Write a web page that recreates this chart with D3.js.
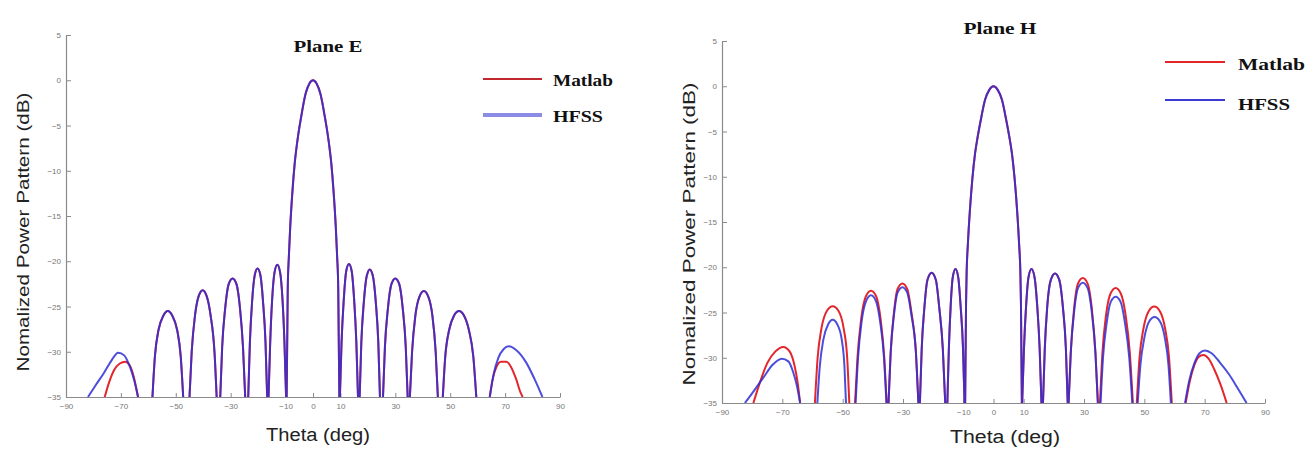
<!DOCTYPE html>
<html><head><meta charset="utf-8">
<script src="https://cdn.jsdelivr.net/npm/d3@7"></script>
<style>body{margin:0;background:#fff}svg{display:block}</style>
</head><body><svg id="c" width="1316" height="452"></svg>
<script>
// ---- data ----
const xTicks = [-90,-70,-50,-30,-10,0,10,30,50,70,90];
const yTicks = [5,0,-5,-10,-15,-20,-25,-30,-35];
const seriesNames = ["Matlab","HFSS"];
const titles = ["Plane E","Plane H"];
const yLabel = "Nomalized Power Pattern (dB)";
const xLabel = "Theta (deg)";

const eMatlab = [
 [-75.9,-35],[-74.2,-33.3],[-72.4,-32],[-70.4,-31.3],[-68.4,-31.1],[-66.8,-31.5],[-65.3,-32.8],[-64.3,-34.2],[-63.8,-35],null,
 [-58.5,-35],[-57.6,-30.5],[-56.3,-27.6],[-54.5,-26],[-52.9,-25.5],[-51.3,-26],[-49.5,-27.6],[-48.2,-30.5],[-47.3,-35],null,
 [-45,-35],[-44.2,-30],[-43,-26],[-41.6,-23.8],[-40.2,-23.2],[-38.8,-23.8],[-37.3,-26],[-35.9,-30],[-35.1,-35],null,
 [-33.8,-35],[-33.1,-29.5],[-32,-25.2],[-30.7,-22.5],[-29.3,-21.9],[-27.9,-22.5],[-26.6,-25.2],[-25.5,-29.5],[-24.7,-35],null,
 [-23.6,-35],[-23,-29],[-22.2,-24.5],[-21.2,-21.5],[-20.2,-20.8],[-19.2,-21.5],[-18.2,-24.5],[-17.3,-29],[-16.7,-35],null,
 [-16.2,-35],[-15.6,-29],[-14.9,-24.3],[-14,-21.2],[-13,-20.4],[-12,-21.2],[-11.1,-24.3],[-10.4,-29],[-9.8,-35],null,
 [-9.6,-35],[-9.2,-23],[-8.8,-19.5],[-8.3,-16.2],[-7.5,-12.3],[-6.7,-9.3],[-5.6,-6.5],[-4.4,-4.2],[-2.7,-1.5],[-1.3,-0.35],[0,0],[1.3,-0.35],[2.7,-1.5],[4.4,-4.2],[5.6,-6.5],[6.7,-9.3],[7.5,-12.3],[8.3,-16.2],[8.8,-19.5],[9.2,-23],[9.6,-35],null,
 [9.8,-35],[10.4,-29],[11.2,-24.3],[12.1,-21.1],[13.1,-20.3],[14.1,-21.1],[15,-24.3],[15.8,-29],[16.4,-35],null,
 [17,-35],[17.6,-29],[18.5,-24.6],[19.6,-21.6],[20.7,-20.9],[21.8,-21.6],[22.9,-24.6],[23.8,-29],[24.4,-35],null,
 [25.5,-35],[26.2,-29.5],[27.3,-25.2],[28.6,-22.5],[30,-21.9],[31.4,-22.5],[32.7,-25.2],[33.8,-29.5],[34.5,-35],null,
 [35.3,-35],[36.1,-30],[37.3,-26],[38.8,-23.9],[40.4,-23.3],[42,-23.9],[43.5,-26],[44.7,-30],[45.5,-35],null,
 [47.3,-35],[48.2,-30.5],[49.6,-27.6],[51.4,-26],[53.2,-25.5],[55,-26],[56.8,-27.6],[58.4,-30.5],[59.5,-35],null,
 [64.4,-35],[65.5,-33],[66.8,-31.7],[68.5,-31.1],[70.5,-31.1],[72.2,-31.7],[74,-33],[75.6,-34.5],[76.4,-35]
];
const eHfss = [
 [-82,-35],[-79.2,-33.7],[-76.3,-32.4],[-73.5,-31],[-71,-30.1],[-68.8,-30.4],[-66.8,-31.6],[-65.1,-33.2],[-63.7,-35],null,
 [-58.5,-35],[-57.6,-30.5],[-56.3,-27.6],[-54.5,-26],[-52.9,-25.5],[-51.3,-26],[-49.5,-27.6],[-48.2,-30.5],[-47.3,-35],null,
 [-45,-35],[-44.2,-30],[-43,-26],[-41.6,-23.8],[-40.2,-23.2],[-38.8,-23.8],[-37.3,-26],[-35.9,-30],[-35.1,-35],null,
 [-33.8,-35],[-33.1,-29.5],[-32,-25.2],[-30.7,-22.5],[-29.3,-21.9],[-27.9,-22.5],[-26.6,-25.2],[-25.5,-29.5],[-24.7,-35],null,
 [-23.6,-35],[-23,-29],[-22.2,-24.5],[-21.2,-21.5],[-20.2,-20.8],[-19.2,-21.5],[-18.2,-24.5],[-17.3,-29],[-16.7,-35],null,
 [-16.2,-35],[-15.6,-29],[-14.9,-24.3],[-14,-21.2],[-13,-20.4],[-12,-21.2],[-11.1,-24.3],[-10.4,-29],[-9.8,-35],null,
 [-9.6,-35],[-9.2,-23],[-8.8,-19.5],[-8.3,-16.2],[-7.5,-12.3],[-6.7,-9.3],[-5.6,-6.5],[-4.4,-4.2],[-2.7,-1.5],[-1.3,-0.35],[0,0],[1.3,-0.35],[2.7,-1.5],[4.4,-4.2],[5.6,-6.5],[6.7,-9.3],[7.5,-12.3],[8.3,-16.2],[8.8,-19.5],[9.2,-23],[9.6,-35],null,
 [9.8,-35],[10.4,-29],[11.2,-24.3],[12.1,-21.1],[13.1,-20.3],[14.1,-21.1],[15,-24.3],[15.8,-29],[16.4,-35],null,
 [17,-35],[17.6,-29],[18.5,-24.6],[19.6,-21.6],[20.7,-20.9],[21.8,-21.6],[22.9,-24.6],[23.8,-29],[24.4,-35],null,
 [25.5,-35],[26.2,-29.5],[27.3,-25.2],[28.6,-22.5],[30,-21.9],[31.4,-22.5],[32.7,-25.2],[33.8,-29.5],[34.5,-35],null,
 [35.3,-35],[36.1,-30],[37.3,-26],[38.8,-23.9],[40.4,-23.3],[42,-23.9],[43.5,-26],[44.7,-30],[45.5,-35],null,
 [47.3,-35],[48.2,-30.5],[49.6,-27.6],[51.4,-26],[53.2,-25.5],[55,-26],[56.8,-27.6],[58.4,-30.5],[59.5,-35],null,
 [64.4,-35],[65.8,-32.5],[67.5,-30.7],[69.5,-29.7],[71.3,-29.4],[74,-29.8],[77.7,-31.2],[80.7,-33],[83.6,-35]
];
const hMatlab = [
 [-79.6,-35],[-77.5,-32.8],[-75,-30.6],[-72.3,-29.3],[-69.7,-28.8],[-67.6,-29.3],[-66,-30.8],[-64.9,-32.8],[-64.1,-35],null,
 [-59.2,-35],[-58.3,-30],[-57,-26.7],[-55.2,-24.8],[-53.3,-24.3],[-51.4,-24.8],[-49.7,-26.7],[-48.5,-30],[-47.8,-35],null,
 [-45.9,-35],[-45.1,-30],[-43.9,-25.8],[-42.3,-23.2],[-40.6,-22.6],[-38.9,-23.2],[-37.4,-25.8],[-36.2,-30],[-35.4,-35],null,
 [-34.8,-35],[-34.1,-29.5],[-33,-25],[-31.8,-22.4],[-30.2,-21.8],[-28.6,-22.4],[-27.2,-25],[-25.7,-29.5],[-24.9,-35],null,
 [-24.4,-35],[-23.8,-29],[-22.9,-24.4],[-21.9,-21.4],[-20.5,-20.6],[-19.1,-21.4],[-18,-24.4],[-16.8,-29],[-16,-35],null,
 [-15.3,-35],[-14.8,-29],[-14.2,-24.3],[-13.5,-21.1],[-12.6,-20.2],[-11.7,-21.1],[-10.9,-24.3],[-10.1,-29],[-9.6,-35],null,
 [-9.4,-35],[-9.1,-24],[-8.9,-20.5],[-8.5,-17.5],[-7.8,-13.6],[-7,-10.2],[-6.1,-7.4],[-5.2,-5.5],[-4.2,-3.7],[-2.8,-1.5],[-1.4,-0.4],[0,0],[1.4,-0.4],[2.8,-1.5],[4.2,-3.7],[5.2,-5.5],[6.1,-7.4],[7,-10.2],[7.8,-13.6],[8.5,-17.5],[8.9,-20.5],[9.1,-24],[9.4,-35],null,
 [9.5,-35],[10.1,-29],[10.8,-24.3],[11.6,-21.1],[12.6,-20.2],[13.6,-21.1],[14.5,-24.3],[15.3,-29],[15.9,-35],null,
 [16.4,-35],[17,-29],[17.8,-24.4],[19,-21.4],[20.4,-20.7],[21.8,-21.4],[23,-24.4],[24,-29],[24.6,-35],null,
 [24.9,-35],[25.6,-29.5],[26.7,-24.6],[28,-21.8],[29.6,-21.2],[31.2,-21.8],[32.6,-24.6],[33.8,-29.5],[34.6,-35],null,
 [35.3,-35],[36.1,-29.5],[37.3,-25.3],[38.8,-22.9],[40.5,-22.3],[42.2,-22.9],[43.8,-25.3],[45.2,-29.5],[46.2,-35],null,
 [47.5,-35],[48.4,-30],[49.7,-26.8],[51.4,-24.9],[53.3,-24.35],[55.2,-24.9],[56.9,-26.8],[58.2,-30],[59.1,-35],null,
 [63.7,-35],[65,-32.7],[66.6,-30.8],[68,-29.9],[69.5,-29.7],[71.3,-30.1],[73.2,-31.3],[75.3,-33],[77.3,-35]
];
const hHfss = [
 [-82.4,-35],[-79.3,-33.6],[-76.3,-32.2],[-73.3,-30.8],[-70.2,-30.1],[-68,-30.4],[-66.4,-31.6],[-65.1,-33.2],[-64.1,-35],null,
 [-58.4,-35],[-57.6,-31],[-56.4,-28],[-54.8,-26.3],[-53.3,-25.8],[-51.8,-26.3],[-50.3,-28],[-49.4,-31],[-48.9,-35],null,
 [-45.7,-35],[-44.9,-30],[-43.8,-26.2],[-42.2,-23.7],[-40.6,-23.1],[-39,-23.7],[-37.5,-26.2],[-36.3,-30],[-35.5,-35],null,
 [-34.8,-35],[-34.1,-29.5],[-33,-25.3],[-31.8,-22.8],[-30.2,-22.2],[-28.6,-22.8],[-27.2,-25.3],[-25.7,-29.5],[-24.9,-35],null,
 [-24.4,-35],[-23.8,-29],[-22.9,-24.4],[-21.9,-21.4],[-20.5,-20.6],[-19.1,-21.4],[-18,-24.4],[-16.8,-29],[-16,-35],null,
 [-15.3,-35],[-14.8,-29],[-14.2,-24.3],[-13.5,-21.1],[-12.6,-20.2],[-11.7,-21.1],[-10.9,-24.3],[-10.1,-29],[-9.6,-35],null,
 [-9.4,-35],[-9.1,-24],[-8.9,-20.5],[-8.5,-17.5],[-7.8,-13.6],[-7,-10.2],[-6.1,-7.4],[-5.2,-5.5],[-4.2,-3.7],[-2.8,-1.5],[-1.4,-0.4],[0,0],[1.4,-0.4],[2.8,-1.5],[4.2,-3.7],[5.2,-5.5],[6.1,-7.4],[7,-10.2],[7.8,-13.6],[8.5,-17.5],[8.9,-20.5],[9.1,-24],[9.4,-35],null,
 [9.5,-35],[10.1,-29],[10.8,-24.3],[11.6,-21.1],[12.6,-20.2],[13.6,-21.1],[14.5,-24.3],[15.3,-29],[15.9,-35],null,
 [16.4,-35],[17,-29],[17.8,-24.4],[19,-21.4],[20.4,-20.7],[21.8,-21.4],[23,-24.4],[24,-29],[24.6,-35],null,
 [24.9,-35],[25.6,-29.5],[26.7,-25],[28,-22.3],[29.6,-21.7],[31.2,-22.3],[32.6,-25],[33.8,-29.5],[34.6,-35],null,
 [35.5,-35],[36.3,-30],[37.5,-26.2],[38.9,-23.8],[40.5,-23.25],[42.1,-23.8],[43.6,-26.2],[45,-30],[46,-35],null,
 [47.8,-35],[48.7,-30.8],[50,-27.8],[51.6,-26],[53.4,-25.5],[55.2,-26],[56.8,-27.8],[58,-30.8],[58.8,-35],null,
 [63.5,-35],[64.9,-32.5],[66.6,-30.6],[68.3,-29.5],[70.1,-29.2],[72.3,-29.5],[75,-30.5],[78,-31.8],[81,-33.4],[83.9,-35]
];

// ---- drawing ----
const svg = d3.select("#c");
const colors = {Matlab:"#e3262c", HFSS:"#2e2ed6"};

const panels = [
  {title:titles[0], series:[eMatlab,eHfss], x0:66, x1:560, yTop:35, yBot:397,
   titleX:328, titleY:52, titleLen:69,
   ylabX:23, ylabY:232, ylabLen:279, xlabX:318, xlabY:441, xlabLen:104,
   leg:{x0:483,x1:542,y:[79,115],tx:553,ty:[86,122],tl:[60,50],
        stroke:["#c0282e","#8c8ce6"],sw:[2,4]}},
  {title:titles[1], series:[hMatlab,hHfss], x0:722, x1:1265, yTop:41, yBot:403,
   titleX:1000, titleY:34, titleLen:73,
   ylabX:689, ylabY:234, ylabLen:303, xlabX:1005, xlabY:443, xlabLen:110,
   leg:{x0:1165,x1:1225,y:[62,100],tx:1238,ty:[70,110],tl:[67,52],
        stroke:["#e3262c","#3a3ad0"],sw:[2,2]}}
];

panels.forEach((p,i)=>{
  const x = d3.scaleLinear().domain([-90,90]).range([p.x0,p.x1]);
  const y = d3.scaleLinear().domain([5,-35]).range([p.yTop,p.yBot]);
  const g = svg.append("g");
  const clipId = "clip"+i;
  g.append("clipPath").attr("id",clipId).append("rect")
    .attr("x",p.x0).attr("y",p.yTop).attr("width",p.x1-p.x0).attr("height",p.yBot-p.yTop);

  // axes
  const ax = g.append("g").attr("transform",`translate(0,${p.yBot})`)
    .call(d3.axisBottom(x).tickValues(xTicks).tickSizeInner(-4).tickSizeOuter(0).tickPadding(6));
  const ay = g.append("g").attr("transform",`translate(${p.x0},0)`)
    .call(d3.axisLeft(y).tickValues(yTicks).tickSizeInner(-5).tickSizeOuter(0).tickPadding(5));
  [ax,ay].forEach(a=>{
    a.select(".domain").attr("stroke","#8a8a8a").attr("stroke-width",1.2);
    a.selectAll(".tick line").attr("stroke","#8a8a8a");
    a.selectAll(".tick text").attr("fill","#777").attr("font-size",8)
      .attr("font-family","Liberation Sans, Arial, sans-serif");
  });

  // curves
  const line = d3.line().defined(d=>d!==null)
    .x(d=>x(d[0])).y(d=>y(d[1])).curve(d3.curveMonotoneX);
  p.series.forEach((s,k)=>{
    g.append("path").attr("clip-path",`url(#${clipId})`)
      .attr("d",line(s)).attr("fill","none")
      .attr("stroke",colors[seriesNames[k]]).attr("stroke-width",2)
      .attr("stroke-opacity",k===1?0.85:1).attr("stroke-linejoin","round");
  });

  // title
  g.append("text").attr("x",p.titleX).attr("y",p.titleY).attr("text-anchor","middle")
    .attr("font-family","Liberation Serif, Times New Roman, serif").attr("font-weight","bold")
    .attr("font-size",17).attr("fill","#111").attr("textLength",p.titleLen)
    .attr("lengthAdjust","spacingAndGlyphs").text(p.title);

  // axis labels
  g.append("text").attr("transform",`translate(${p.ylabX},${p.ylabY}) rotate(-90)`)
    .attr("text-anchor","middle").attr("dy","0.35em")
    .attr("font-family","Liberation Sans, Arial, sans-serif").attr("font-size",17)
    .attr("fill","#222").attr("textLength",p.ylabLen).attr("lengthAdjust","spacingAndGlyphs")
    .text(yLabel);
  g.append("text").attr("x",p.xlabX).attr("y",p.xlabY).attr("text-anchor","middle")
    .attr("font-family","Liberation Sans, Arial, sans-serif").attr("font-size",18)
    .attr("fill","#222").attr("textLength",p.xlabLen).attr("lengthAdjust","spacingAndGlyphs")
    .text(xLabel);

  // legend
  seriesNames.forEach((n,k)=>{
    g.append("line").attr("x1",p.leg.x0).attr("x2",p.leg.x1)
      .attr("y1",p.leg.y[k]).attr("y2",p.leg.y[k])
      .attr("stroke",p.leg.stroke[k]).attr("stroke-width",p.leg.sw[k]);
    g.append("text").attr("x",p.leg.tx).attr("y",p.leg.ty[k])
      .attr("font-family","Liberation Serif, Times New Roman, serif").attr("font-weight","bold")
      .attr("font-size",17).attr("fill","#111").attr("textLength",p.leg.tl[k])
      .attr("lengthAdjust","spacingAndGlyphs").text(n);
  });
});
</script></body></html>
